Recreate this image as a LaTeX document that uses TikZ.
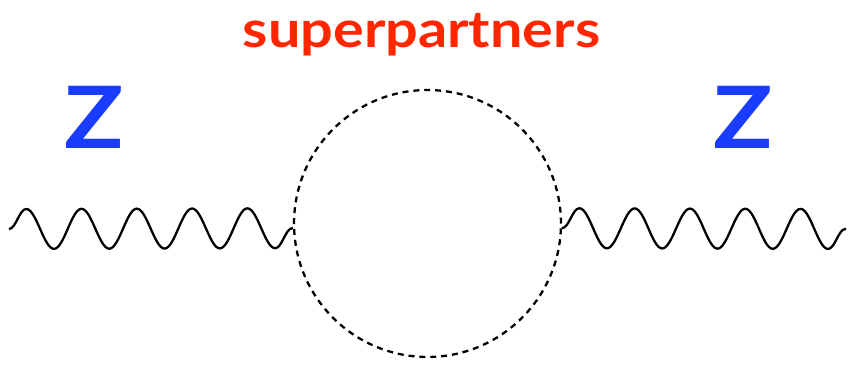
\documentclass[tikz,border=0pt]{standalone}
\usepackage{fontspec}
\setmainfont{Lato}
\usetikzlibrary{decorations.pathmorphing}
\definecolor{partred}{RGB}{255,38,0}
\definecolor{zblue}{RGB}{25,60,255}
\begin{document}
\begin{tikzpicture}[x=0.02cm,y=0.02cm,
  photon/.style={decorate,decoration={snake,segment length=1.106cm,amplitude=0.4cm},line width=1.3pt},
  loopline/.style={draw,circle,minimum size=5.34cm,inner sep=0pt,line width=1.3pt,dash pattern=on 3.4pt off 2.8pt},
  boson/.style={anchor=base,text=zblue,font=\fontsize{49}{52}\selectfont\bfseries},
  partners/.style={anchor=base,text=partred,font=\fontsize{29}{32}\selectfont\bfseries}]
  \useasboundingbox (0,0) rectangle (861,370);
  \node[loopline] (loop) at (427.5,146.5) {};
  \coordinate (zin) at (9,141);
  \coordinate (zout) at (846,141);
  \draw[photon] (zin) -- (loop.182);
  \draw[photon] (loop.-2) -- (zout);
  \node[partners] (sp) at (421.5,323) {\scalebox{1.13}[1]{superpartners}};
  \node[boson] (zl) at (94,222) {\scalebox{1.14}[1]{Z}};
  \node[boson] (zr) at (743.5,222) {\scalebox{1.14}[1]{Z}};
\end{tikzpicture}
\end{document}
